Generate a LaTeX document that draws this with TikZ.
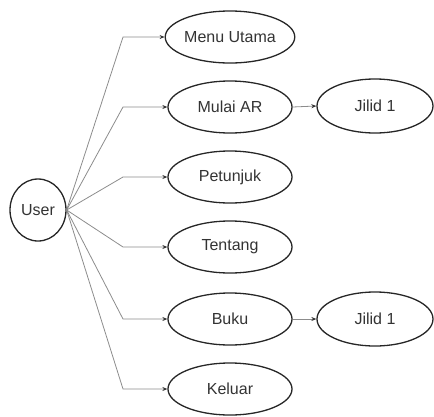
\documentclass[tikz,border=0pt]{standalone}
\usepackage{fontspec}
\setmainfont{Liberation Sans}
\usetikzlibrary{shapes.geometric,arrows.meta}
\begin{document}
\begin{tikzpicture}[x=1pt,y=-1pt,
  oval/.style={ellipse,draw=black!85,line width=1.3pt,inner sep=0pt,minimum width=124pt,minimum height=52pt,font=\fontsize{16}{18}\selectfont,text=black!80},
  oval2/.style={oval,minimum width=116pt,minimum height=54pt},
  userbox/.style={oval,minimum width=56pt,minimum height=62pt},
  conn/.style={draw=black!45,line width=0.8pt,-{Stealth[length=5pt,width=4pt,black!80]}}]
\useasboundingbox (0,0) rectangle (434,416);
\node[userbox] (user) at (38,210) {User};
\node[oval] (m1) at (230,37) {Menu Utama};
\node[oval] (m2) at (230,107) {Mulai AR};
\node[oval] (m3) at (230,177) {Petunjuk};
\node[oval] (m4) at (230,247) {Tentang};
\node[oval] (m5) at (230,319) {Buku};
\node[oval] (m6) at (230,389) {Keluar};
\node[oval2] (j1) at (375,106) {Jilid 1};
\node[oval2] (j2) at (375,319) {Jilid 1};
\coordinate (b1) at (123,37);
\coordinate (b2) at (123,107);
\coordinate (b3) at (123,177);
\coordinate (b4) at (123,247);
\coordinate (b5) at (123,319);
\coordinate (b6) at (123,389);
\foreach \i in {1,...,6}{\draw[conn] (user.east) -- (b\i) -- (m\i.west);}
\draw[conn] (m2.east) -- (j1.west);
\draw[conn] (m5.east) -- (j2.west);
\end{tikzpicture}
\end{document}
